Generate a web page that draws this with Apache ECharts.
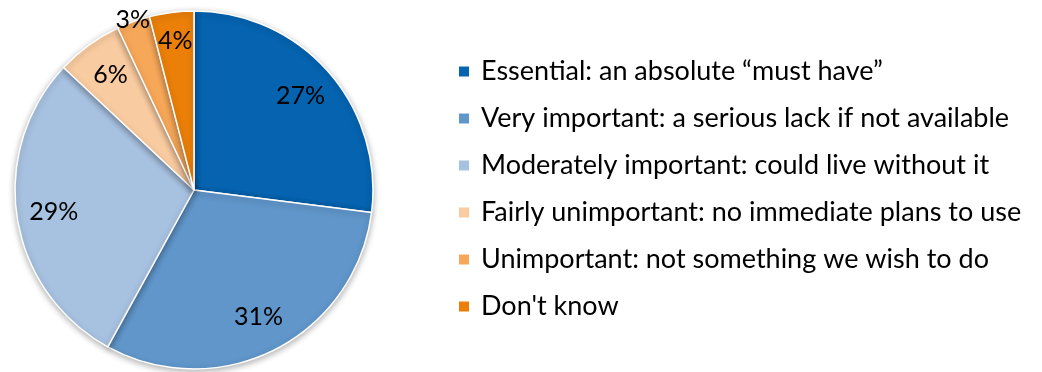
<!DOCTYPE html>
<html>
<head>
<meta charset="utf-8">
<title>Importance rating</title>
<script src="https://cdn.jsdelivr.net/npm/echarts@6/dist/echarts.min.js"></script>
<style>
  html, body { margin: 0; padding: 0; background: #ffffff; }
  #chart { width: 1042px; height: 372px; }
</style>
</head>
<body>
<div id="chart"></div>
<script>
// Answer categories and their share of responses (%)
const categories = [
  'Essential: an absolute \u201cmust have\u201d',
  'Very important: a serious lack if not available',
  'Moderately important: could live without it',
  'Fairly unimportant: no immediate plans to use',
  'Unimportant: not something we wish to do',
  "Don't know"
];
const shares = [27, 31, 29, 6, 3, 4];

const palette = ['#0563B0', '#6096CA', '#A7C1E0', '#F9CBA0', '#F7A758', '#EB7F08'];

// Pie geometry and the ring on which each percentage label sits
const CENTER = [194, 190];
const RADIUS = 179;
const labelRing = [139, 139, 139, 139, 178, 147];
const FONT = 'Lato, "Open Sans", sans-serif';

const slices = categories.map((name, i) => ({ name, value: shares[i] }));

const series = [{
  type: 'pie',
  center: CENTER,
  radius: [0, RADIUS],
  startAngle: 90,
  clockwise: true,
  animation: false,
  silent: true,
  color: palette,
  itemStyle: {
    borderColor: '#ffffff',
    borderWidth: 1.5,
    shadowBlur: 6,
    shadowOffsetY: 2,
    shadowColor: 'rgba(0,0,0,0.30)'
  },
  label: { show: false },
  labelLine: { show: false },
  data: slices
}];

// Transparent rings that only carry the percentage labels
[...new Set(labelRing)].forEach(r => {
  series.push({
    type: 'pie',
    center: CENTER,
    radius: [r - 20, r + 20],
    startAngle: 90,
    clockwise: true,
    animation: false,
    silent: true,
    itemStyle: { color: 'transparent', borderWidth: 0 },
    emphasis: { disabled: true },
    labelLine: { show: false },
    label: {
      show: true,
      position: 'inside',
      formatter: p => p.value + '%',
      color: '#000000',
      fontSize: 25,
      fontFamily: FONT
    },
    data: slices.map((s, i) => ({
      name: s.name,
      value: s.value,
      label: { show: labelRing[i] === r }
    }))
  });
});

const chart = echarts.init(document.getElementById('chart'), null, { renderer: 'canvas' });
chart.setOption({
  backgroundColor: '#ffffff',
  animation: false,
  legend: {
    orient: 'vertical',
    left: 459,
    top: 58,
    padding: 0,
    icon: 'rect',
    itemWidth: 10,
    itemHeight: 10,
    itemGap: 20,
    selectedMode: false,
    data: categories,
    itemStyle: { borderWidth: 0, shadowBlur: 0, shadowColor: 'transparent' },
    textStyle: {
      color: '#000000',
      fontSize: 27,
      lineHeight: 27,
      fontFamily: FONT,
      padding: [0, 0, 0, 7]
    }
  },
  series
});
</script>
</body>
</html>
